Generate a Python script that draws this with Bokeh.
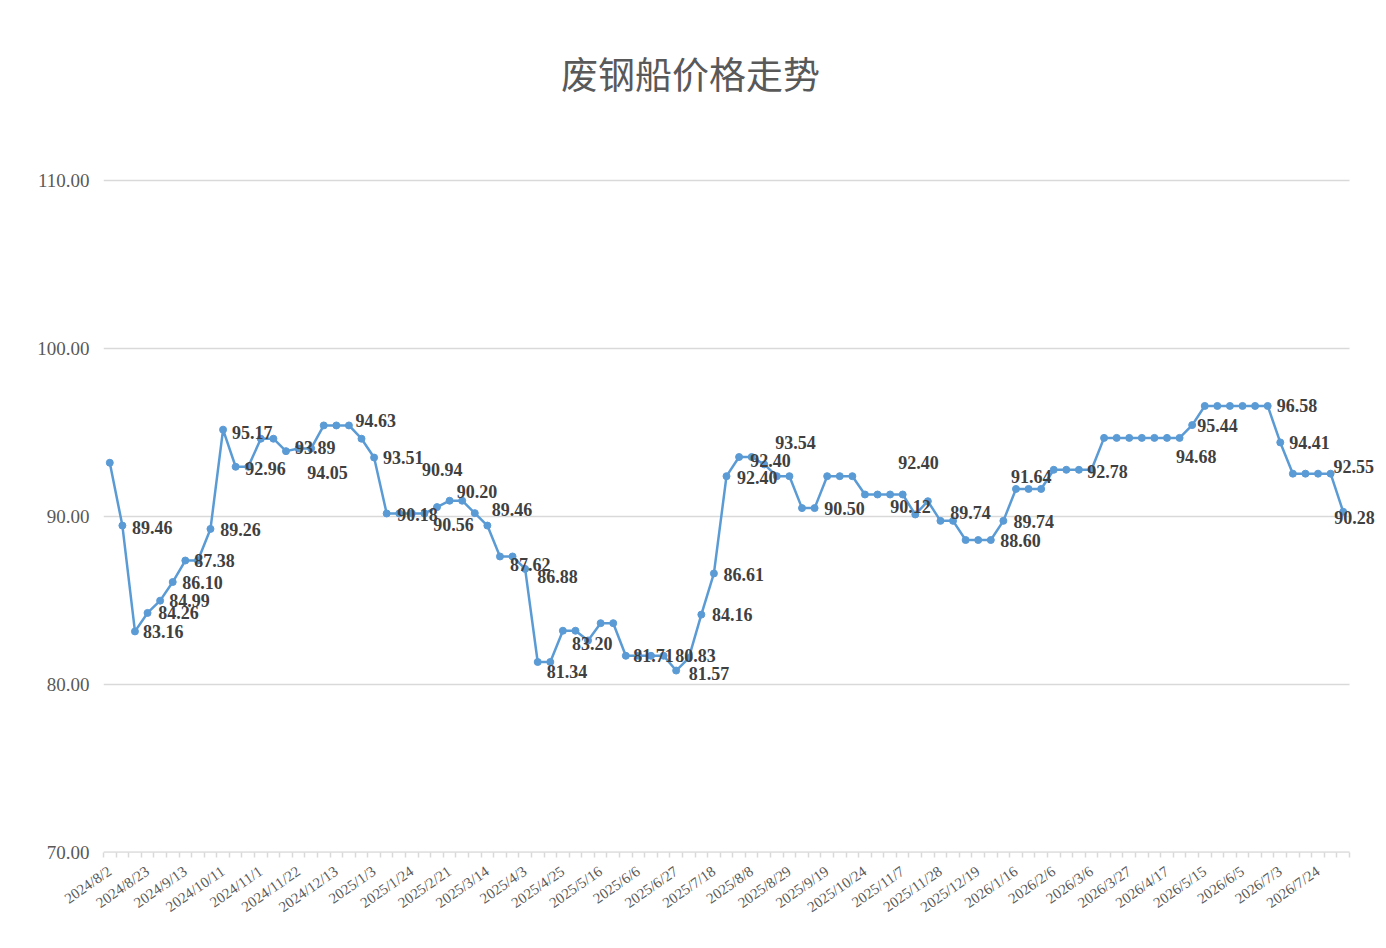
from bokeh.plotting import figure
from bokeh.models import ColumnDataSource, FixedTicker, LabelSet, Label, NumeralTickFormatter, Range1d
from bokeh.core.properties import value
from bokeh.embed import file_html
from bokeh.resources import INLINE

# ---- data ----
prices = [93.20, 89.46, 83.16, 84.26, 84.99, 86.10, 87.38, 87.38, 89.26, 95.17,
          92.96, 92.96, 94.63, 94.63, 93.89, 94.05, 94.05, 95.42, 95.42, 95.42,
          94.63, 93.51, 90.18, 90.18, 90.18, 90.18, 90.56, 90.94, 90.94, 90.20,
          89.46, 87.62, 87.62, 86.88, 81.34, 81.34, 83.20, 83.20, 82.62, 83.65,
          83.65, 81.71, 81.71, 81.71, 81.71, 80.83, 81.57, 84.16, 86.61, 92.40,
          93.54, 93.54, 93.10, 92.40, 92.40, 90.50, 90.50, 92.40, 92.40, 92.40,
          91.31, 91.31, 91.31, 91.31, 90.12, 90.91, 89.74, 89.74, 88.60, 88.60,
          88.60, 89.74, 91.64, 91.64, 91.64, 92.78, 92.78, 92.78, 92.78, 94.68,
          94.68, 94.68, 94.68, 94.68, 94.68, 94.68, 95.44, 96.58, 96.58, 96.58,
          96.58, 96.58, 96.58, 94.41, 92.55, 92.55, 92.55, 92.55, 90.28]

tick_labels = ["2024/8/2", "2024/8/23", "2024/9/13", "2024/10/11", "2024/11/1", "2024/11/22",
               "2024/12/13", "2025/1/3", "2025/1/24", "2025/2/21", "2025/3/14", "2025/4/3",
               "2025/4/25", "2025/5/16", "2025/6/6", "2025/6/27", "2025/7/18", "2025/8/8",
               "2025/8/29", "2025/9/19", "2025/10/24", "2025/11/7", "2025/11/28", "2025/12/19",
               "2026/1/16", "2026/2/6", "2026/3/6", "2026/3/27", "2026/4/17", "2026/5/15",
               "2026/6/5", "2026/7/3", "2026/7/24"]
tick_step = 3
y_ticks = [70, 80, 90, 100, 110]

# indices of the points that carry a data label
label_points = [1, 2, 3, 4, 5, 6, 8, 9, 10, 14, 15, 20, 21, 22, 27, 26, 29, 30, 31, 33,
                34, 36, 41, 45, 46, 47, 48, 49, 53, 51, 56, 59, 64, 66, 70, 71, 72, 77, 84, 86,
                92, 93, 97, 98]

# ---- label placement (pixel offsets from their point; dy positive = down) ----
label_dx = [9.5, 8, 10.6, 9, 9.5, 9, 9.7, 9, 9.5, 9, 8.6, -6, 9, 10.5, -27.7, -3.8, -18, 4.5, 10, 12,
            9, 9, 7.5, -1, 0, 10.6, 9.6, 10.4, -26.7, 23.5, 9.6, 46, -25, 9.7, 9.4, 10, -5, 8.3, 9, 5,
            9, 9, 3, -9]
label_dy = [1.5, 0, 0, 0, 0, 0, 0.6, 2.7, 2, -4, 24, -18, 0, 0.7, -31, 17.4, -21.6, -16.5, 8, 8,
            10, 13, 0, -15, 15, 0, 1, 1, -15.7, -15, 0, -14, -8, -8.7, 0, 1, -12.4, 1.4, 19, 0,
            0, 0, -7, 6]

n = len(prices)
xs = list(range(n))
src = ColumnDataSource(dict(x=xs, y=prices))
lsrc = ColumnDataSource(dict(
    x=[i for i in label_points],
    y=[prices[i] for i in label_points],
    text=["%.2f" % prices[i] for i in label_points],
    dx=label_dx,
    dy=[-d for d in label_dy],
))

GRID = "#d9d9d9"
TXT = "#595959"
BLUE = "#5b9bd5"

# ---- layout: the frame is extended beyond the axis box so labels / title are not clipped ----
W, H = 1378, 939
left, right, top, bottom = 103, 0, 20, 87
frame_w = W - left - right
frame_h = H - top - bottom
axis_w = 1246.0          # pixel width of the category axis
axis_h = 672.0           # pixel height of the 70..110 value axis
px_x = axis_w / n
px_y = axis_h / (y_ticks[-1] - y_ticks[0])
x0 = -0.5
x_end = x0 + frame_w / px_x
y_end = y_ticks[0] + frame_h / px_y

p = figure(width=W, height=H, output_backend="svg", toolbar_location=None,
           x_range=Range1d(x0, x_end), y_range=Range1d(y_ticks[0], y_end),
           min_border_left=left, min_border_right=right, min_border_top=top,
           min_border_bottom=bottom)
p.outline_line_color = None
p.background_fill_color = "white"
p.border_fill_color = "white"

# gridlines and axis line only over the category span
gsrc = ColumnDataSource(dict(x0=[x0] * len(y_ticks), x1=[n - 0.5] * len(y_ticks), y=y_ticks))
p.segment(x0="x0", x1="x1", y0="y", y1="y", source=gsrc, line_color=GRID, line_width=1.3)
p.segment(x0=[x0], x1=[n - 0.5], y0=[y_ticks[0]], y1=[y_ticks[0]], line_color=GRID, line_width=1.8)
p.xgrid.visible = False
p.ygrid.visible = False

# x axis
major = list(range(0, n, tick_step))[:len(tick_labels)]
p.xaxis.ticker = FixedTicker(ticks=major, minor_ticks=[i - 0.5 for i in range(n + 1)])
p.xaxis.major_label_overrides = {t: lab for t, lab in zip(major, tick_labels)}
p.xaxis.major_tick_line_color = None
p.xaxis.major_tick_in = 0
p.xaxis.major_tick_out = 0
p.xaxis.minor_tick_in = 0
p.xaxis.minor_tick_out = 5
p.xaxis.minor_tick_line_color = GRID
p.xaxis.minor_tick_line_width = 1.5
p.xaxis.axis_line_color = None
p.xaxis.major_label_orientation = 0.61
p.xaxis.major_label_standoff = 12
p.xaxis.major_label_text_font = "Liberation Serif"
p.xaxis.major_label_text_font_size = "15px"
p.xaxis.major_label_text_color = TXT

# y axis
p.yaxis.ticker = FixedTicker(ticks=y_ticks, minor_ticks=[])
p.yaxis.formatter = NumeralTickFormatter(format="0.00")
p.yaxis.axis_line_color = None
p.yaxis.major_tick_line_color = None
p.yaxis.minor_tick_line_color = None
p.yaxis.major_tick_in = 0
p.yaxis.major_tick_out = 0
p.yaxis.major_label_standoff = 14
p.yaxis.major_label_text_font = "Liberation Serif"
p.yaxis.major_label_text_font_size = "19px"
p.yaxis.major_label_text_color = TXT

# series
p.line("x", "y", source=src, line_color=BLUE, line_width=2.5)
p.scatter("x", "y", source=src, size=7, fill_color=BLUE, line_color=BLUE)

labels = LabelSet(x="x", y="y", text="text", x_offset="dx", y_offset="dy", source=lsrc,
                  text_font=value("Liberation Serif"), text_font_style="bold",
                  text_font_size=value("18px"), text_color="#404040",
                  text_align="left", text_baseline="middle")
p.add_layout(labels)

title = Label(x=690 - left, y=frame_h - (72 - top), x_units="screen", y_units="screen",
              text="废钢船价格走势",
              text_font="Noto Sans CJK SC", text_font_size="37px", text_color=TXT,
              text_align="center", text_baseline="middle")
p.add_layout(title)

open("out.html", "w").write(file_html(p, INLINE))
